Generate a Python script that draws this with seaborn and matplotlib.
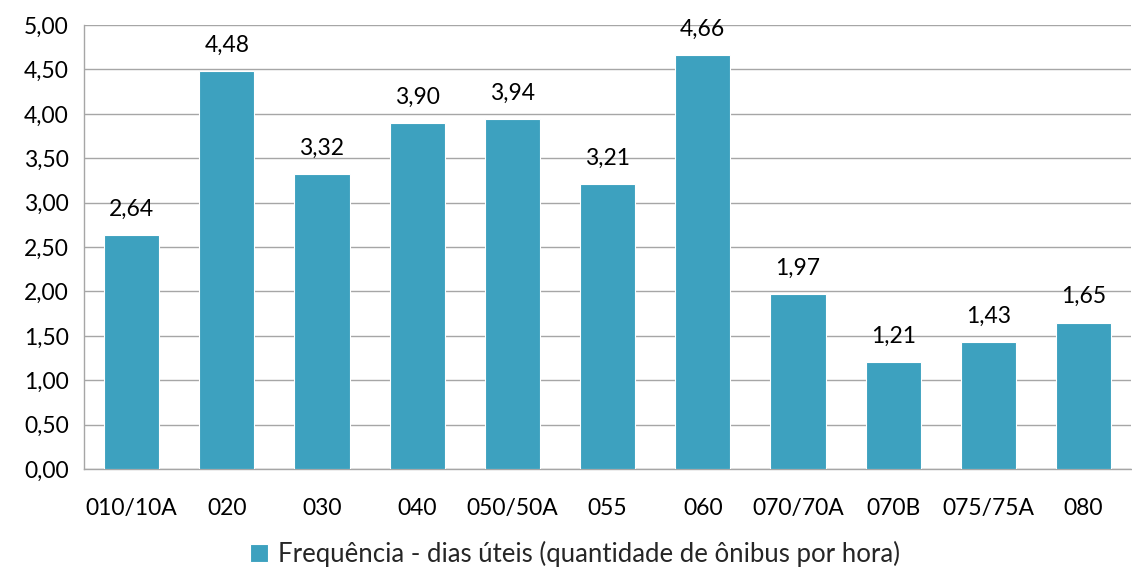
import matplotlib
matplotlib.use("Agg")
import matplotlib.pyplot as plt
import seaborn as sns
import pandas as pd
from matplotlib.ticker import FuncFormatter, MultipleLocator

# Data
linhas = ['010/10A', '020', '030', '040', '050/50A', '055', '060',
          '070/70A', '070B', '075/75A', '080']
frequencia = [2.64, 4.48, 3.32, 3.90, 3.94, 3.21, 4.66, 1.97, 1.21, 1.43, 1.65]
serie_nome = 'Frequência - dias úteis (quantidade de ônibus por hora)'

df = pd.DataFrame({'linha': linhas, 'freq': frequencia})

sns.set_style('white')
plt.rcParams['font.family'] = ['Lato', 'DejaVu Sans']

bar_color = '#3DA1BF'
grid_color = '#A6A6A6'
fs = 16.5

fig = plt.figure(figsize=(11.32, 5.70), dpi=100)
ax = fig.add_axes([0.0742, 0.177, 0.925, 0.779])

sns.barplot(data=df, x='linha', y='freq', color=bar_color, width=0.58,
            saturation=1, edgecolor='white', linewidth=0.8,
            label=serie_nome, ax=ax, zorder=3)

ax.set_ylim(0, 5)
ax.yaxis.set_major_locator(MultipleLocator(0.5))
ax.yaxis.set_major_formatter(FuncFormatter(lambda v, p: f'{v:.2f}'.replace('.', ',')))
ax.grid(axis='y', color=grid_color, linewidth=1, zorder=0)
ax.set_axisbelow(True)

for side in ['top', 'right']:
    ax.spines[side].set_visible(False)
for side in ['left', 'bottom']:
    ax.spines[side].set_color(grid_color)
    ax.spines[side].set_linewidth(1)

ax.tick_params(axis='both', length=0, labelsize=fs, colors='black')
ax.tick_params(axis='x', pad=21)
ax.tick_params(axis='y', pad=11)
ax.set_xlabel('')
ax.set_ylabel('')

ax.bar_label(ax.containers[0],
             labels=[f'{v:.2f}'.replace('.', ',') for v in frequencia],
             padding=11, fontsize=fs, color='black')

handles, labels_ = ax.get_legend_handles_labels()
ax.legend(handles, labels_, loc='lower center', bbox_to_anchor=(0.508, -0.036),
          bbox_transform=fig.transFigure, frameon=False, fontsize=18.5,
          handlelength=0.7, handleheight=0.7, handletextpad=0.4)

fig.savefig('out.png', dpi=100, facecolor='white')
